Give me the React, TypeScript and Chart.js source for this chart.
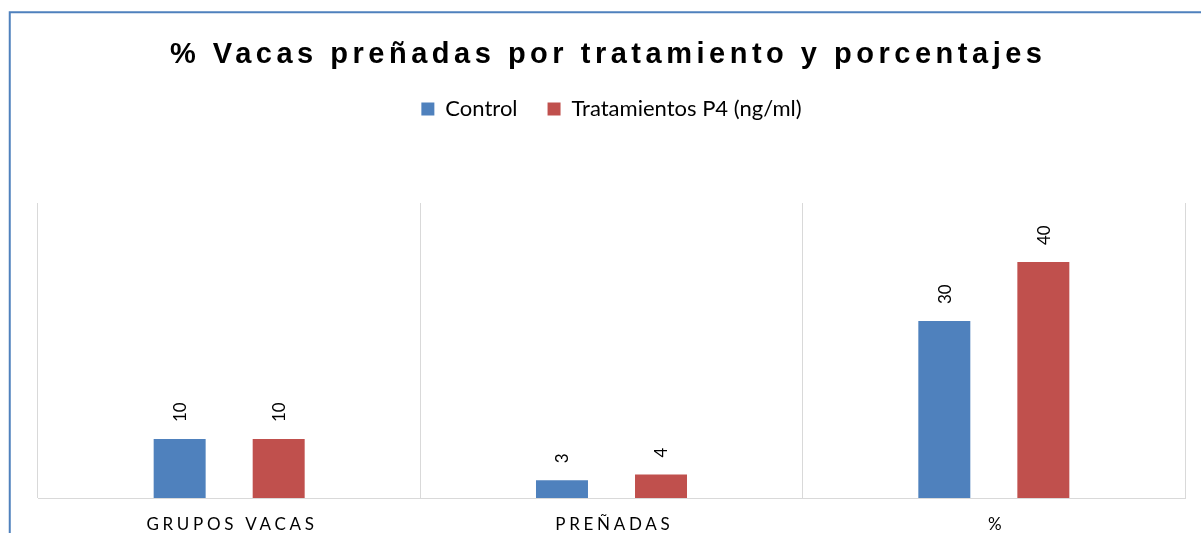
import React, { useEffect, useRef } from 'react';
import { Chart, registerables } from 'chart.js';

Chart.register(...registerables);

const TITLE = '% Vacas preñadas por tratamiento y porcentajes';
const categories = ['GRUPOS VACAS', 'PREÑADAS', '%'];
const seriesNames = ['Control', 'Tratamientos P4 (ng/ml)'];
const controlValues = [10, 3, 30];
const treatmentValues = [10, 4, 40];
const seriesColors = ['#4F81BD', '#C0504D'];
const yMin = 0;
const yMax = 50;

const LABEL_FONT = 'Lato, "Noto Sans", sans-serif';

const decorPlugin = {
  id: 'decor',
  beforeDraw(chart: any) {
    const ctx = chart.ctx;
    ctx.save();
    ctx.fillStyle = '#FFFFFF';
    ctx.fillRect(0, 0, chart.width, chart.height);
    ctx.strokeStyle = '#4F81BD';
    ctx.lineWidth = 2;
    ctx.strokeRect(9.75, 12.25, 1400, 700);
    ctx.restore();
  },
  afterDraw(chart: any) {
    const ctx = chart.ctx;
    // Title with letter spacing
    ctx.save();
    ctx.font = 'bold 29px "Liberation Sans", Arial, sans-serif';
    ctx.fillStyle = '#000000';
    ctx.textBaseline = 'alphabetic';
    ctx.textAlign = 'left';
    ctx.letterSpacing = '0px';
    const raw = ctx.measureText(TITLE).width;
    const target = 872;
    const n = Array.from(TITLE).length;
    const sp = (target - raw) / (n - 1);
    ctx.letterSpacing = sp + 'px';
    ctx.fillText(TITLE, 606 - target / 2, 63);
    ctx.restore();

    // Category labels with letter spacing
    const xScale = chart.scales.x;
    ctx.save();
    ctx.font = '17px ' + LABEL_FONT;
    ctx.fillStyle = '#000000';
    ctx.textBaseline = 'alphabetic';
    ctx.textAlign = 'left';
    const ls = 3.7;
    ctx.letterSpacing = ls + 'px';
    categories.forEach((c, i) => {
      const x = xScale.getPixelForTick(i);
      const w = ctx.measureText(c).width - ls;
      ctx.fillText(c, x - w / 2 + 1, 530);
    });
    ctx.restore();

    // Rotated data labels
    ctx.save();
    ctx.font = '17px ' + LABEL_FONT;
    ctx.fillStyle = '#000000';
    ctx.textAlign = 'left';
    ctx.textBaseline = 'middle';
    chart.data.datasets.forEach((ds: any, di: number) => {
      const meta = chart.getDatasetMeta(di);
      meta.data.forEach((el: any, i: number) => {
        ctx.save();
        ctx.translate(el.x + 1, el.y - 17);
        ctx.rotate(-Math.PI / 2);
        ctx.fillText(String(ds.data[i]), 0, 0);
        ctx.restore();
      });
    });
    ctx.restore();
  },
};

export default function App() {
  const ref = useRef<HTMLCanvasElement | null>(null);

  useEffect(() => {
    if (!ref.current) return;
    const chart = new Chart(ref.current, {
      type: 'bar',
      data: {
        labels: categories,
        datasets: [
          {
            label: seriesNames[0],
            data: controlValues,
            backgroundColor: seriesColors[0],
            borderWidth: 0,
            categoryPercentage: 0.518,
            barPercentage: 0.525,
          },
          {
            label: seriesNames[1],
            data: treatmentValues,
            backgroundColor: seriesColors[1],
            borderWidth: 0,
            categoryPercentage: 0.518,
            barPercentage: 0.525,
          },
        ],
      },
      options: {
        responsive: false,
        animation: false,
        events: [],
        layout: { padding: { top: 68, left: 38, right: 16, bottom: 35 } },
        scales: {
          x: {
            ticks: { display: false },
            grid: { display: true, offset: true, color: '#D9D9D9', lineWidth: 1, drawTicks: false },
            border: { display: true, color: '#D9D9D9', width: 1 },
          },
          y: {
            display: false,
            min: yMin,
            max: yMax,
          },
        },
        plugins: {
          title: { display: false },
          subtitle: {
            display: true,
            text: ' ',
            position: 'top',
            weight: 500,
            font: { size: 10 },
            padding: { top: 0, bottom: 61 },
          } as any,
          legend: {
            display: true,
            position: 'top',
            labels: {
              boxWidth: 13,
              boxHeight: 13,
              padding: 30,
              color: '#000000',
              font: { family: LABEL_FONT, size: 22 },
            },
          },
          tooltip: { enabled: false },
        },
      },
      plugins: [decorPlugin],
    });
    return () => chart.destroy();
  }, []);

  return (
    <div style={{ position: 'fixed', left: 0, top: 0, width: '1201px', height: '533px', overflow: 'hidden', background: '#fff' }}>
      <canvas ref={ref} width={1201} height={533} style={{ display: 'block' }} />
    </div>
  );
}
